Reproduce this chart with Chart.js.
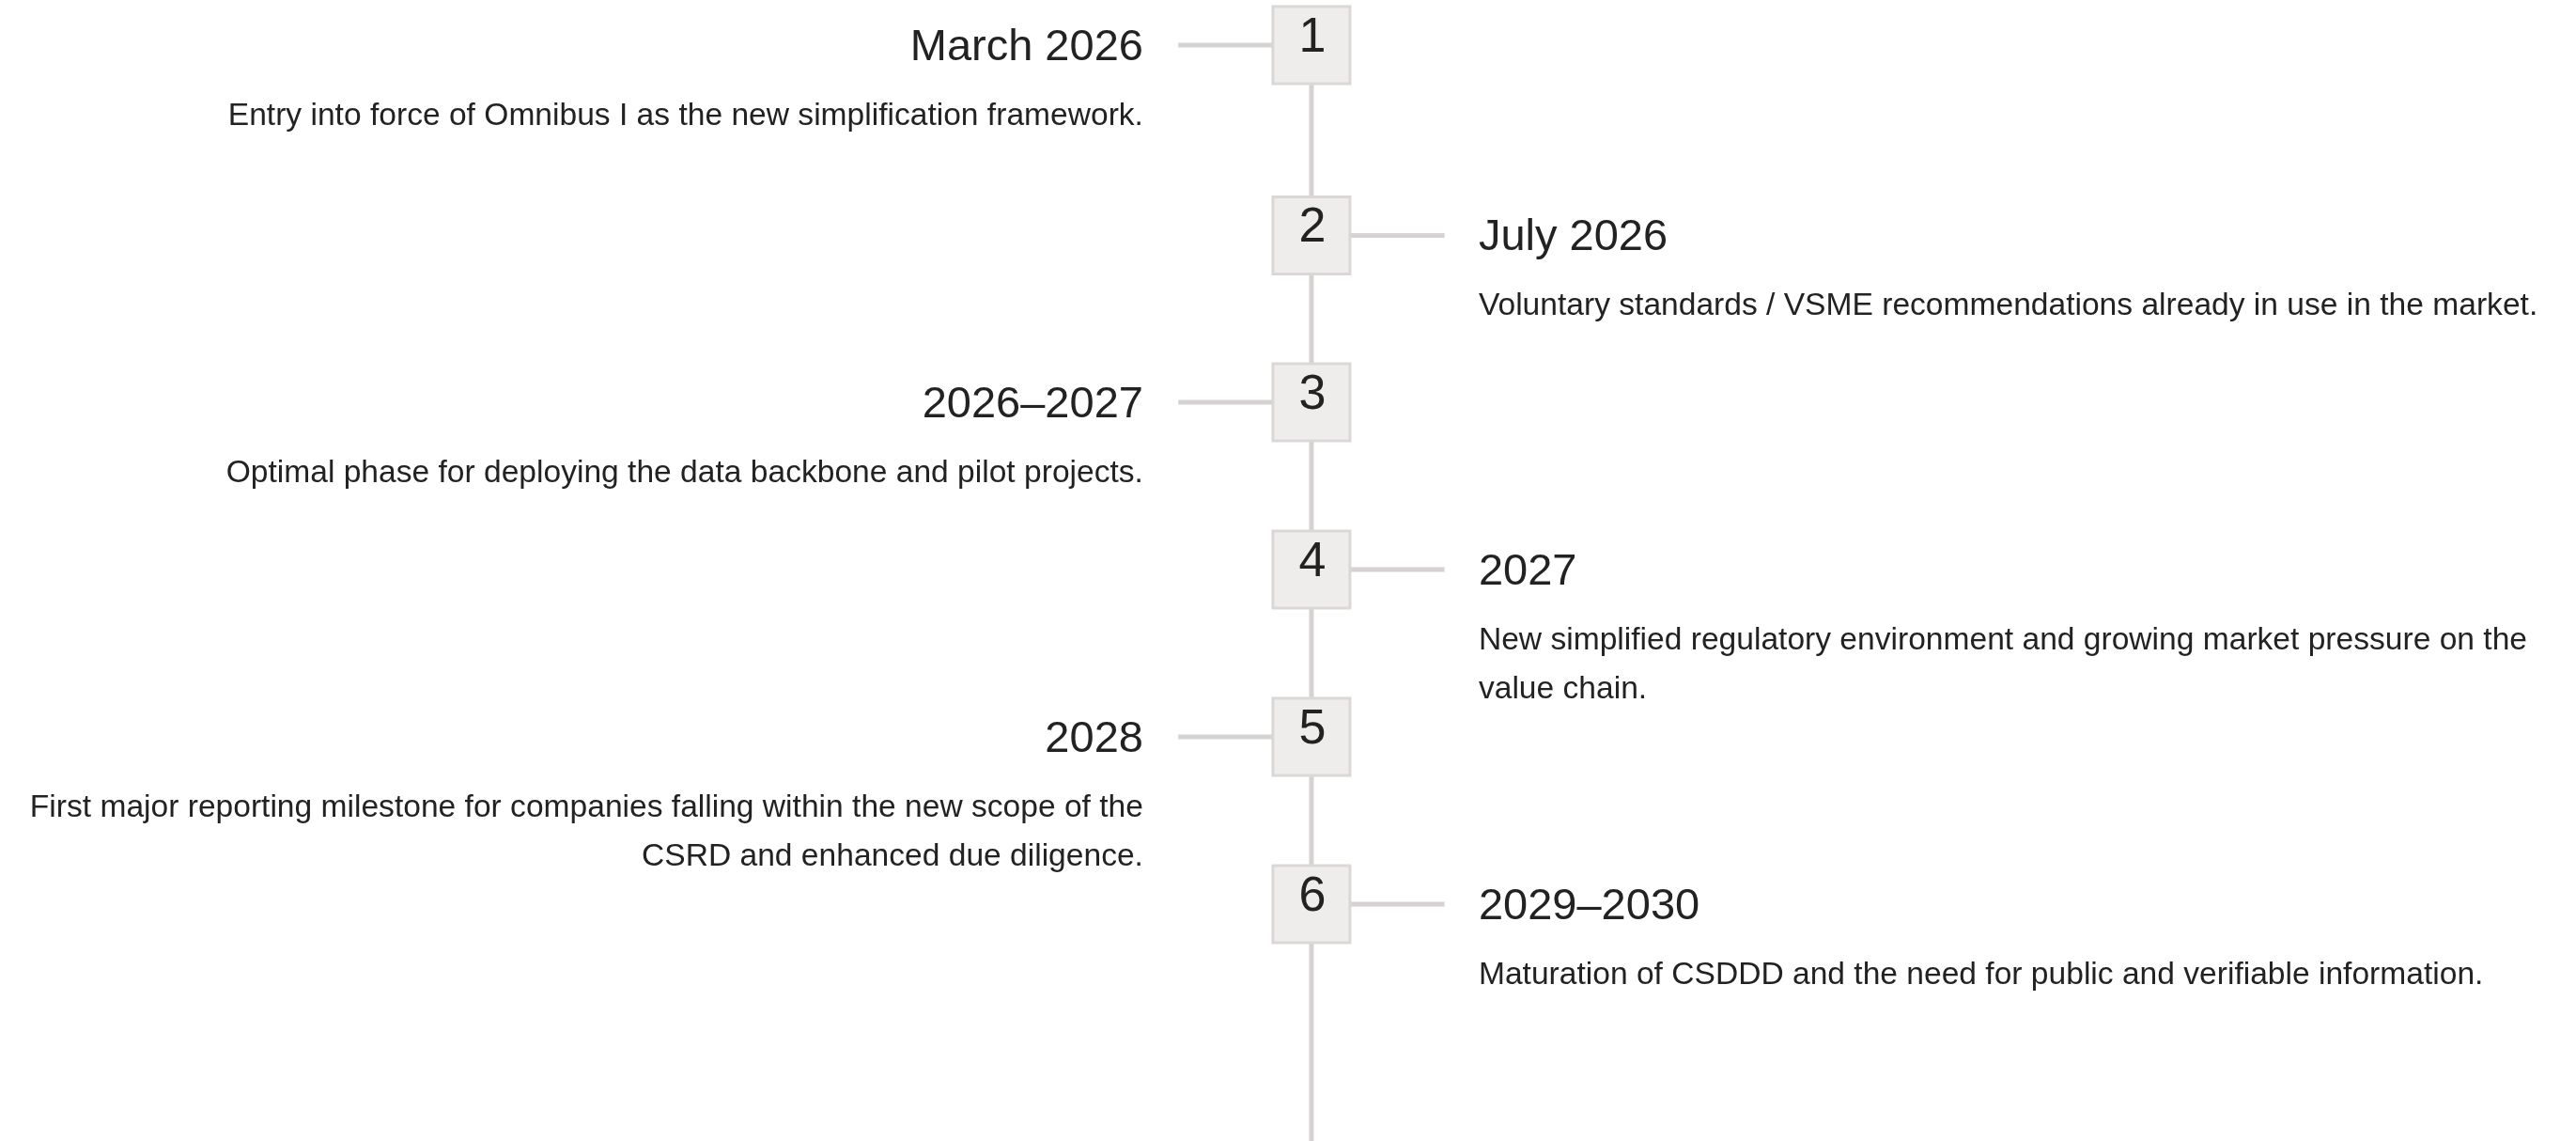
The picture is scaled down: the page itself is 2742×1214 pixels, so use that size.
<!DOCTYPE html>
<html>
<head>
<meta charset="utf-8">
<script src="https://cdn.jsdelivr.net/npm/chart.js@4.4.1/dist/chart.umd.min.js"></script>
<style>
  html, body { margin: 0; padding: 0; background: #fff; }
  #wrap { width: 2742px; height: 1214px; position: relative; }
</style>
</head>
<body>
<div id="wrap"><canvas id="timeline"></canvas></div>
<script>
// timeline steps
const stepNums = ["1", "2", "3", "4", "5", "6"];
const stepDates = ["March 2026", "July 2026", "2026–2027", "2027", "2028", "2029–2030"];
const stepSides = ["left", "right", "left", "right", "left", "right"];
const stepY = [0.274, 1.432, 2.447, 3.464, 4.482, 5.499];
const stepNotes = [
  ["Entry into force of Omnibus I as the new simplification framework."],
  ["Voluntary standards / VSME recommendations already in use in the market."],
  ["Optimal phase for deploying the data backbone and pilot projects."],
  ["New simplified regulatory environment and growing market pressure on the", "value chain."],
  ["First major reporting milestone for companies falling within the new scope of the", "CSRD and enhanced due diligence."],
  ["Maturation of CSDDD and the need for public and verifiable information."],
];

const Y_MAX = 6.94;
const LINE = "#d6d2d2";
const INK = "#222222";
const FONT = '"Liberation Sans", Arial, Helvetica, sans-serif';
const ARM = 0.81;

// spine + connectors, built from the steps
const spine = [{ x: 0, y: stepY[0] }, { x: 0, y: Y_MAX }];
const arms = [];
stepY.forEach((y, i) => {
  const dir = stepSides[i] === "left" ? -1 : 1;
  arms.push({ x: 0, y: y }, { x: dir * ARM, y: y }, { x: 0, y: null });
});

const labelsPlugin = {
  id: "stepLabels",
  afterDatasetsDraw(chart) {
    const { ctx, scales } = chart;
    const cx = scales.x.getPixelForValue(0);
    ctx.save();
    ctx.fillStyle = INK;
    ctx.textBaseline = "alphabetic";
    stepY.forEach((v, i) => {
      const py = scales.y.getPixelForValue(v);
      // number in the box
      ctx.font = "52px " + FONT;
      ctx.textAlign = "center";
      ctx.fillText(stepNums[i], cx + 1, py + 7);

      const left = stepSides[i] === "left";
      const tx = left ? cx - 179 : cx + 178;
      ctx.textAlign = left ? "right" : "left";
      ctx.font = "47px " + FONT;
      ctx.fillText(stepDates[i], tx, py + 16);

      ctx.font = "33.6px " + FONT;
      stepNotes[i].forEach((line, j) => {
        ctx.fillText(line, tx, py + 85 + j * 52);
      });
    });
    ctx.restore();
  },
};

new Chart(document.getElementById("timeline"), {
  type: "scatter",
  data: {
    datasets: [
      {
        label: "steps",
        data: stepY.map((y) => ({ x: 0, y: y })),
        pointStyle: "rect",
        pointRadius: 58,
        pointHoverRadius: 58,
        pointBackgroundColor: "#efecec",
        pointBorderColor: "#dbd7d7",
        pointBorderWidth: 3,
        pointHoverBorderWidth: 3,
        showLine: false,
        clip: false,
      },
      {
        label: "arms",
        type: "line",
        data: arms,
        borderColor: LINE,
        borderWidth: 5,
        pointRadius: 0,
        spanGaps: false,
        fill: false,
      },
      {
        label: "spine",
        type: "line",
        data: spine,
        borderColor: LINE,
        borderWidth: 5,
        pointRadius: 0,
        fill: false,
      },
    ],
  },
  options: {
    responsive: true,
    maintainAspectRatio: false,
    animation: false,
    events: [],
    layout: { padding: 0, autoPadding: false },
    plugins: { legend: { display: false }, tooltip: { enabled: false } },
    scales: {
      x: { type: "linear", min: -7.98, max: 7.695, display: false },
      y: { type: "linear", min: 0, max: Y_MAX, reverse: true, display: false },
    },
  },
  plugins: [labelsPlugin],
});
</script>
</body>
</html>
